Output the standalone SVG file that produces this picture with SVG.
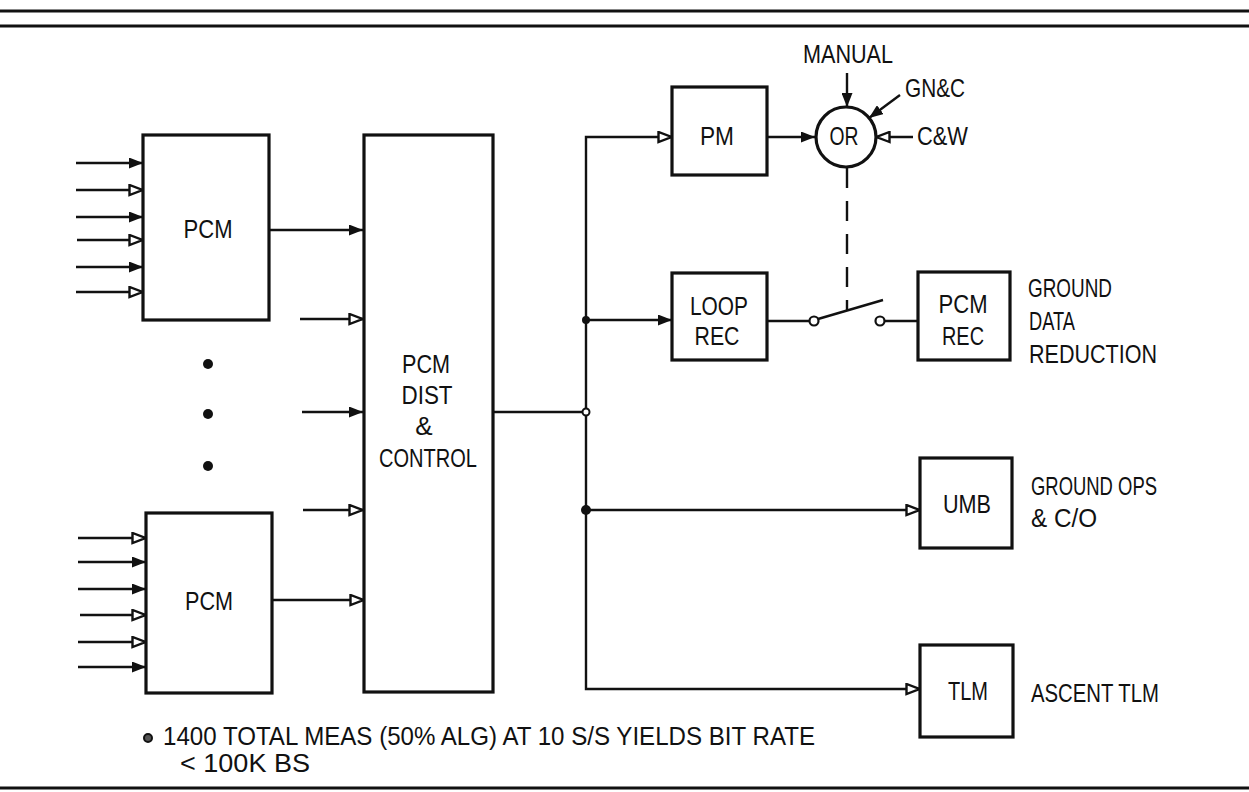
<svg xmlns="http://www.w3.org/2000/svg" width="1249" height="792" viewBox="0 0 1249 792">
<style>
.box{fill:#fff;stroke:#111;stroke-width:3.2}
.ln{fill:none;stroke:#111;stroke-width:2.4}
.rule{stroke:#111;stroke-width:3}
.t{font-family:"Liberation Sans",Arial,sans-serif;font-size:26px;fill:#111}
.m{text-anchor:middle}
.lab{font-family:"Liberation Sans",Arial,sans-serif;font-size:25px;fill:#111}
.dash{fill:none;stroke:#111;stroke-width:2.4;stroke-dasharray:20 13}
</style>
<defs>
<marker id="af" viewBox="0 0 14 11" refX="14" refY="5.5" markerWidth="14" markerHeight="11" markerUnits="userSpaceOnUse" orient="auto">
<path d="M0,0 L14,5.5 L0,11 Z" fill="#111"/>
</marker>
<marker id="ao" viewBox="0 0 16 13" refX="15" refY="6.5" markerWidth="16" markerHeight="13" markerUnits="userSpaceOnUse" orient="auto">
<path d="M1.5,1.5 L14.5,6.5 L1.5,11.5 Z" fill="#fff" stroke="#111" stroke-width="2.4"/>
</marker>
</defs>
<rect width="1249" height="792" fill="#fff"/>
<g id="rules">
<line class="rule" x1="0" y1="11" x2="1249" y2="11"/>
<line class="rule" x1="0" y1="26" x2="1249" y2="26"/>
<line class="rule" x1="0" y1="788" x2="1249" y2="788"/>
</g>
<g id="connectors">
<line class="ln" x1="76" y1="163" x2="143" y2="163" marker-end="url(#af)"/>
<line class="ln" x1="76" y1="190" x2="143" y2="190" marker-end="url(#ao)"/>
<line class="ln" x1="76" y1="217" x2="143" y2="217" marker-end="url(#af)"/>
<line class="ln" x1="77" y1="240" x2="143" y2="240" marker-end="url(#ao)"/>
<line class="ln" x1="76" y1="267" x2="143" y2="267" marker-end="url(#af)"/>
<line class="ln" x1="76" y1="292" x2="143" y2="292" marker-end="url(#ao)"/>
<line class="ln" x1="78" y1="538" x2="146" y2="538" marker-end="url(#ao)"/>
<line class="ln" x1="78" y1="562" x2="146" y2="562" marker-end="url(#af)"/>
<line class="ln" x1="78" y1="589" x2="146" y2="589" marker-end="url(#af)"/>
<line class="ln" x1="80" y1="615" x2="146" y2="615" marker-end="url(#ao)"/>
<line class="ln" x1="78" y1="642" x2="146" y2="642" marker-end="url(#ao)"/>
<line class="ln" x1="78" y1="667" x2="146" y2="667" marker-end="url(#af)"/>
<line class="ln" x1="269" y1="230" x2="363" y2="230" marker-end="url(#af)"/>
<line class="ln" x1="300" y1="319" x2="363" y2="319" marker-end="url(#ao)"/>
<line class="ln" x1="302" y1="412" x2="363" y2="412" marker-end="url(#af)"/>
<line class="ln" x1="303" y1="510" x2="363" y2="510" marker-end="url(#ao)"/>
<line class="ln" x1="272" y1="600" x2="364" y2="600" marker-end="url(#ao)"/>
<line class="ln" x1="492" y1="412" x2="586" y2="412"/>
<polyline class="ln" points="586,412 586,137 672,137" marker-end="url(#ao)"/>
<polyline class="ln" points="586,412 586,689 920,689" marker-end="url(#ao)"/>
<line class="ln" x1="586" y1="320" x2="672" y2="320" marker-end="url(#af)"/>
<line class="ln" x1="586" y1="510" x2="920" y2="510" marker-end="url(#ao)"/>
<line class="ln" x1="767" y1="137" x2="815" y2="137" marker-end="url(#af)"/>
<line class="ln" x1="847" y1="73" x2="847" y2="107" marker-end="url(#af)"/>
<line class="ln" x1="900" y1="95" x2="869" y2="118" marker-end="url(#af)"/>
<line class="ln" x1="913" y1="137" x2="876" y2="137" marker-end="url(#ao)"/>
<line class="dash" x1="847" y1="168" x2="847" y2="311"/>
<line class="ln" x1="767" y1="321" x2="809.5" y2="321"/>
<line class="ln" x1="818" y1="319" x2="883" y2="300"/>
<line class="ln" x1="884.5" y1="321" x2="918" y2="321"/>
<circle cx="814" cy="321" r="4.5" fill="#fff" stroke="#111" stroke-width="2.2"/>
<circle cx="880" cy="321" r="4.5" fill="#fff" stroke="#111" stroke-width="2.2"/>
<circle cx="586" cy="320" r="4" fill="#111"/>
<circle cx="586" cy="412" r="3.5" fill="#fff" stroke="#111" stroke-width="2"/>
<circle cx="586" cy="510" r="5" fill="#111"/>
</g>
<g id="dots">
<circle cx="208" cy="364" r="5" fill="#111"/>
<circle cx="208" cy="414" r="5" fill="#111"/>
<circle cx="208" cy="466" r="5" fill="#111"/>
</g>
<g id="pcm1">
<rect class="box" x="143" y="135" width="126" height="185"/>
<text class="t m" x="208" y="238" textLength="49" lengthAdjust="spacingAndGlyphs">PCM</text>
</g>
<g id="pcm2">
<rect class="box" x="146" y="513" width="126" height="180"/>
<text class="t m" x="209" y="610" textLength="48" lengthAdjust="spacingAndGlyphs">PCM</text>
</g>
<g id="dist">
<rect class="box" x="364" y="135" width="129" height="557"/>
<text class="t m" x="426" y="373" textLength="48" lengthAdjust="spacingAndGlyphs">PCM</text>
<text class="t m" x="427" y="404" textLength="51" lengthAdjust="spacingAndGlyphs">DIST</text>
<text class="t m" x="424" y="435">&amp;</text>
<text class="t m" x="428" y="467" textLength="98" lengthAdjust="spacingAndGlyphs">CONTROL</text>
</g>
<g id="pm">
<rect class="box" x="672" y="87" width="95" height="88"/>
<text class="t m" x="717" y="145" textLength="34" lengthAdjust="spacingAndGlyphs">PM</text>
</g>
<g id="or">
<circle cx="846" cy="137" r="30" fill="#fff" stroke="#111" stroke-width="3.2"/>
<text class="t m" x="844" y="145" textLength="29" lengthAdjust="spacingAndGlyphs">OR</text>
</g>
<g id="looprec">
<rect class="box" x="672" y="273" width="95" height="87"/>
<text class="t m" x="719" y="315" textLength="58" lengthAdjust="spacingAndGlyphs">LOOP</text>
<text class="t m" x="717" y="345" textLength="45" lengthAdjust="spacingAndGlyphs">REC</text>
</g>
<g id="pcmrec">
<rect class="box" x="918" y="272" width="92" height="88"/>
<text class="t m" x="963" y="313" textLength="49" lengthAdjust="spacingAndGlyphs">PCM</text>
<text class="t m" x="963" y="345" textLength="42" lengthAdjust="spacingAndGlyphs">REC</text>
</g>
<g id="umb">
<rect class="box" x="920" y="458" width="92" height="90"/>
<text class="t m" x="967" y="513" textLength="48" lengthAdjust="spacingAndGlyphs">UMB</text>
</g>
<g id="tlm">
<rect class="box" x="920" y="645" width="93" height="92"/>
<text class="t m" x="968" y="700" textLength="40" lengthAdjust="spacingAndGlyphs">TLM</text>
</g>
<g id="labels">
<text class="t" x="803" y="63" textLength="90" lengthAdjust="spacingAndGlyphs">MANUAL</text>
<text class="t" x="905" y="97" textLength="60" lengthAdjust="spacingAndGlyphs">GN&amp;C</text>
<text class="t" x="917" y="145" textLength="51" lengthAdjust="spacingAndGlyphs">C&amp;W</text>
<text class="lab" x="1028" y="297" textLength="84" lengthAdjust="spacingAndGlyphs">GROUND</text>
<text class="lab" x="1029" y="330" textLength="46" lengthAdjust="spacingAndGlyphs">DATA</text>
<text class="lab" x="1029" y="363" textLength="128" lengthAdjust="spacingAndGlyphs">REDUCTION</text>
<text class="lab" x="1031" y="495" textLength="126" lengthAdjust="spacingAndGlyphs">GROUND OPS</text>
<text class="lab" x="1031" y="527" textLength="66" lengthAdjust="spacingAndGlyphs">&amp; C/O</text>
<text class="lab" x="1031" y="702" textLength="128" lengthAdjust="spacingAndGlyphs">ASCENT TLM</text>
</g>
<g id="footnote">
<circle cx="148" cy="738" r="4" fill="#555" stroke="#111" stroke-width="2"/>
<text class="lab" x="163" y="745" textLength="652" lengthAdjust="spacingAndGlyphs">1400 TOTAL MEAS (50% ALG) AT 10 S/S YIELDS BIT RATE</text>
<text class="lab" x="180" y="772" textLength="130" lengthAdjust="spacingAndGlyphs">&lt; 100K BS</text>
</g>
</svg>
